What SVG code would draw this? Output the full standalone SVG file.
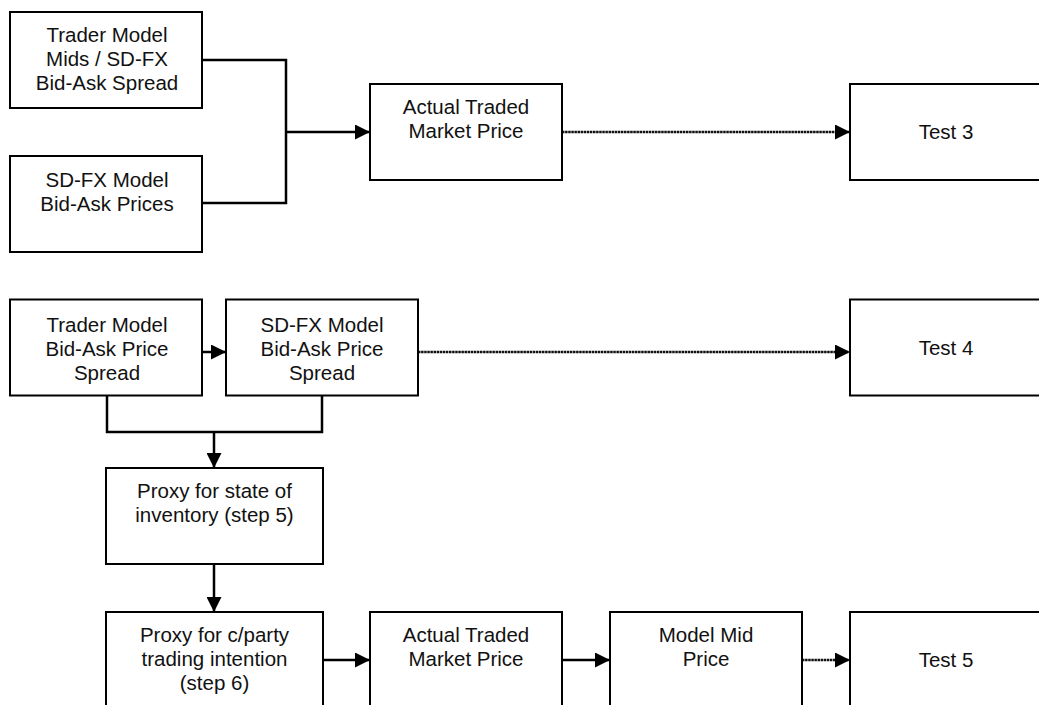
<svg xmlns="http://www.w3.org/2000/svg" width="1039" height="705" viewBox="0 0 1039 705">
  <style>
    .box { fill: #ffffff; stroke: #000000; stroke-width: 2; }
    .lbl { font-family: "Liberation Sans", Arial, sans-serif; font-size: 20.5px; fill: #111111; text-anchor: middle; }
    .solid { fill: none; stroke: #000000; stroke-width: 2.5; }
    .dotted { fill: none; stroke: #111111; stroke-width: 2.4; stroke-dasharray: 2.5 0.6; }
  </style>
  <defs>
    <marker id="head" viewBox="0 0 15 15" refX="15" refY="7.5" markerWidth="15" markerHeight="15" markerUnits="userSpaceOnUse" orient="auto">
      <path d="M0,0 L15,7.5 L0,15 z" fill="#000000"/>
    </marker>
  </defs>
  <rect width="1039" height="705" fill="#ffffff"/>

  <g id="connectors">
    <!-- upper block: two inputs merge into traded price -->
    <path class="solid" d="M202,60 H286 V203 H202"/>
    <path class="solid" d="M286,132 H370" marker-end="url(#head)"/>
    <path class="dotted" d="M562,132 H850" marker-end="url(#head)"/>
    <!-- middle block -->
    <path class="solid" d="M202,352 H226" marker-end="url(#head)"/>
    <path class="dotted" d="M418,352 H850" marker-end="url(#head)"/>
    <path class="solid" d="M107,396 V432 H322 V396"/>
    <path class="solid" d="M214,432 V468" marker-end="url(#head)"/>
    <path class="solid" d="M214,564 V612" marker-end="url(#head)"/>
    <!-- bottom chain -->
    <path class="solid" d="M323,660 H370" marker-end="url(#head)"/>
    <path class="solid" d="M562,660 H610" marker-end="url(#head)"/>
    <path class="dotted" d="M802,660 H850" marker-end="url(#head)"/>
  </g>

  <g id="trader-mids">
    <rect class="box" x="10" y="12" width="192" height="96"/>
    <text class="lbl" x="107" y="42">Trader Model</text>
    <text class="lbl" x="107" y="66">Mids / SD-FX</text>
    <text class="lbl" x="107" y="90">Bid-Ask Spread</text>
  </g>

  <g id="sdfx-prices">
    <rect class="box" x="10" y="156" width="192" height="96"/>
    <text class="lbl" x="107" y="187">SD-FX Model</text>
    <text class="lbl" x="107" y="211">Bid-Ask Prices</text>
  </g>

  <g id="traded-price-top">
    <rect class="box" x="370" y="84" width="192" height="96"/>
    <text class="lbl" x="466" y="114">Actual Traded</text>
    <text class="lbl" x="466" y="138">Market Price</text>
  </g>

  <g id="test3">
    <rect class="box" x="850" y="84" width="192" height="96"/>
    <text class="lbl" x="946" y="139">Test 3</text>
  </g>

  <g id="trader-spread">
    <rect class="box" x="10" y="299.5" width="192" height="96"/>
    <text class="lbl" x="107" y="332">Trader Model</text>
    <text class="lbl" x="107" y="356">Bid-Ask Price</text>
    <text class="lbl" x="107" y="380">Spread</text>
  </g>

  <g id="sdfx-spread">
    <rect class="box" x="226" y="299.5" width="192" height="96"/>
    <text class="lbl" x="322" y="332">SD-FX Model</text>
    <text class="lbl" x="322" y="356">Bid-Ask Price</text>
    <text class="lbl" x="322" y="380">Spread</text>
  </g>

  <g id="test4">
    <rect class="box" x="850" y="299.5" width="192" height="96"/>
    <text class="lbl" x="946" y="355">Test 4</text>
  </g>

  <g id="inventory-proxy">
    <rect class="box" x="106" y="468" width="217" height="96"/>
    <text class="lbl" x="214.5" y="498">Proxy for state of</text>
    <text class="lbl" x="214.5" y="522">inventory (step 5)</text>
  </g>

  <g id="intention-proxy">
    <rect class="box" x="106" y="612" width="217" height="96"/>
    <text class="lbl" x="214.5" y="642">Proxy for c/party</text>
    <text class="lbl" x="214.5" y="666">trading intention</text>
    <text class="lbl" x="214.5" y="690">(step 6)</text>
  </g>

  <g id="traded-price-bottom">
    <rect class="box" x="370" y="612" width="192" height="96"/>
    <text class="lbl" x="466" y="642">Actual Traded</text>
    <text class="lbl" x="466" y="666">Market Price</text>
  </g>

  <g id="model-mid">
    <rect class="box" x="610" y="612" width="192" height="96"/>
    <text class="lbl" x="706" y="642">Model Mid</text>
    <text class="lbl" x="706" y="666">Price</text>
  </g>

  <g id="test5">
    <rect class="box" x="850" y="612" width="192" height="96"/>
    <text class="lbl" x="946" y="667">Test 5</text>
  </g>
</svg>
